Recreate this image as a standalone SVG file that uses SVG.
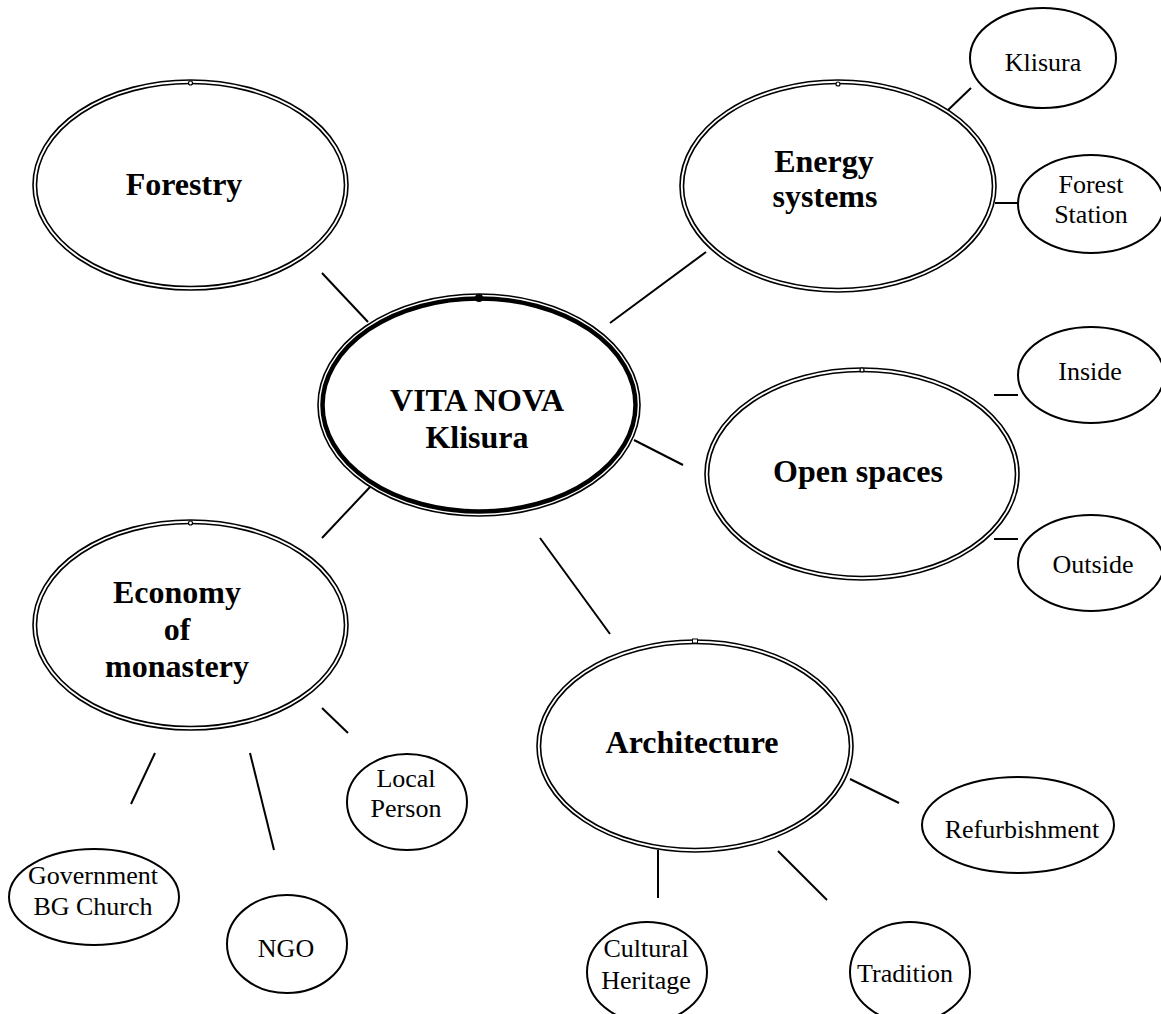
<svg xmlns="http://www.w3.org/2000/svg" width="1161" height="1014" viewBox="0 0 1161 1014">
<style>
.o{fill:#fff;stroke:#000;stroke-width:1.6}
.i{fill:none;stroke:#000;stroke-width:1.6}
.s{fill:#fff;stroke:#000;stroke-width:2}
.big{font-family:"Liberation Serif","Times New Roman",serif;font-weight:bold;font-size:32px;text-anchor:middle;fill:#000}
.sm{font-family:"Liberation Serif","Times New Roman",serif;font-size:26px;text-anchor:middle;fill:#000}
#connectors line{stroke:#000;stroke-width:2}
</style>
<rect width="1161" height="1014" fill="#fff"/>
<g id="connectors">
<line x1="322" y1="273" x2="368" y2="322"/>
<line x1="610" y1="323" x2="706" y2="252"/>
<line x1="947" y1="111" x2="971" y2="88"/>
<line x1="995" y1="203" x2="1019" y2="203"/>
<line x1="634" y1="440" x2="683" y2="465"/>
<line x1="994" y1="395" x2="1018" y2="395"/>
<line x1="994" y1="539" x2="1018" y2="539"/>
<line x1="370" y1="487" x2="322" y2="538"/>
<line x1="540" y1="538" x2="610" y2="634"/>
<line x1="322" y1="708" x2="348" y2="733"/>
<line x1="155" y1="753" x2="131" y2="804"/>
<line x1="250" y1="753" x2="274" y2="850"/>
<line x1="850" y1="779" x2="899" y2="803"/>
<line x1="658" y1="850" x2="658" y2="898"/>
<line x1="778" y1="851" x2="827" y2="900"/>
</g>
<g id="center">
<ellipse cx="479" cy="405" rx="161" ry="111" fill="#fff" stroke="#000" stroke-width="1.6"/>
<ellipse cx="479" cy="405" rx="156.5" ry="106.5" fill="none" stroke="#000" stroke-width="4.5"/>
<circle cx="479" cy="298" r="4" fill="#000"/>
<text class="big" x="477" y="411">VITA NOVA</text>
<text class="big" x="477" y="448">Klisura</text>
</g>
<g id="forestry">
<ellipse class="o" cx="190.5" cy="185" rx="157.5" ry="105"/>
<ellipse class="i" cx="190.5" cy="185" rx="154" ry="101.5"/>
<circle cx="190.5" cy="83" r="2" fill="#fff" stroke="#000" stroke-width="1.2"/>
<text class="big" x="184" y="195">Forestry</text>
</g>
<g id="energy">
<ellipse class="o" cx="838" cy="186" rx="158" ry="106"/>
<ellipse class="i" cx="838" cy="186" rx="154.5" ry="102.5"/>
<circle cx="838" cy="84" r="2" fill="#fff" stroke="#000" stroke-width="1.2"/>
<text class="big" x="824" y="172">Energy</text>
<text class="big" x="825" y="207">systems</text>
</g>
<g id="open-spaces">
<ellipse class="o" cx="862" cy="474" rx="157" ry="106"/>
<ellipse class="i" cx="862" cy="474" rx="153.5" ry="102.5"/>
<circle cx="862" cy="370" r="2" fill="#fff" stroke="#000" stroke-width="1.2"/>
<text class="big" x="858" y="482">Open spaces</text>
</g>
<g id="economy">
<ellipse class="o" cx="190.5" cy="625" rx="157.5" ry="105"/>
<ellipse class="i" cx="190.5" cy="625" rx="154" ry="101.5"/>
<circle cx="190.5" cy="523" r="2" fill="#fff" stroke="#000" stroke-width="1.2"/>
<text class="big" x="177" y="603">Economy</text>
<text class="big" x="177" y="640">of</text>
<text class="big" x="177" y="677">monastery</text>
</g>
<g id="architecture">
<ellipse class="o" cx="695" cy="746" rx="158" ry="106"/>
<ellipse class="i" cx="695" cy="746" rx="154.5" ry="102.5"/>
<rect x="692.5" y="639" width="5" height="4" fill="#fff" stroke="#000" stroke-width="1"/>
<text class="big" x="692" y="753">Architecture</text>
</g>
<g id="klisura">
<ellipse class="s" cx="1043" cy="58" rx="73" ry="50"/>
<text class="sm" x="1043" y="71">Klisura</text>
</g>
<g id="forest-station">
<ellipse class="s" cx="1091" cy="204" rx="73" ry="49"/>
<text class="sm" x="1091" y="193">Forest</text>
<text class="sm" x="1091" y="223">Station</text>
</g>
<g id="inside">
<ellipse class="s" cx="1091" cy="375" rx="73" ry="48"/>
<text class="sm" x="1090" y="380">Inside</text>
</g>
<g id="outside">
<ellipse class="s" cx="1091" cy="563" rx="73" ry="48"/>
<text class="sm" x="1093" y="573">Outside</text>
</g>
<g id="local-person">
<ellipse class="s" cx="407" cy="802" rx="60" ry="48"/>
<text class="sm" x="406" y="787">Local</text>
<text class="sm" x="406" y="817">Person</text>
</g>
<g id="government">
<ellipse class="s" cx="94" cy="897" rx="85" ry="48"/>
<text class="sm" x="93" y="884">Government</text>
<text class="sm" x="93" y="915">BG Church</text>
</g>
<g id="ngo">
<ellipse class="s" cx="287" cy="944" rx="60" ry="49"/>
<text class="sm" x="286" y="957">NGO</text>
</g>
<g id="refurbishment">
<ellipse class="s" cx="1018" cy="825" rx="96" ry="48"/>
<text class="sm" x="1022" y="838">Refurbishment</text>
</g>
<g id="cultural-heritage">
<ellipse class="s" cx="647" cy="972" rx="60" ry="50"/>
<text class="sm" x="646" y="957">Cultural</text>
<text class="sm" x="646" y="989">Heritage</text>
</g>
<g id="tradition">
<ellipse class="s" cx="910" cy="972" rx="60" ry="50"/>
<text class="sm" x="905" y="982">Tradition</text>
</g>
</svg>
